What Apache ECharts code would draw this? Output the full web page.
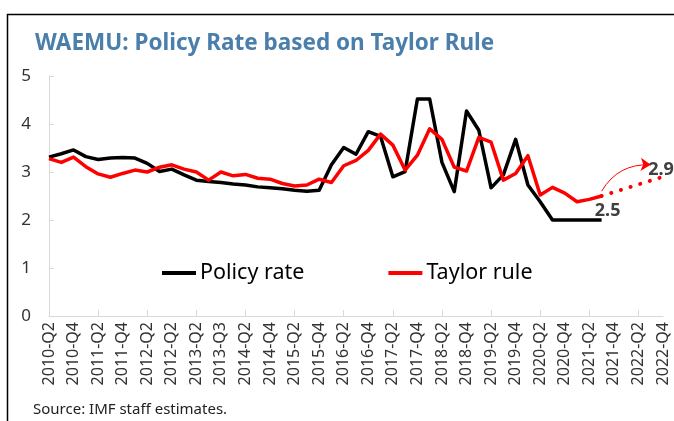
<!DOCTYPE html>
<html>
<head>
<meta charset="utf-8">
<script src="https://cdn.jsdelivr.net/npm/echarts@6/dist/echarts.min.js"></script>
<style>
  html, body { margin: 0; padding: 0; background: #fff; }
  #chart { width: 674px; height: 421px; }
</style>
</head>
<body>
<div id="chart"></div>
<script>
// Quarters 2010-Q2 .. 2022-Q4
const categories = [];
for (let y = 2010; y <= 2022; y++) {
  for (let q = 1; q <= 4; q++) {
    if (y === 2010 && q === 1) continue;
    categories.push(y + '-Q' + q);
  }
}

// Axis labels shown on every second quarter
const tickLabels = [
  '2010-Q2', '2010-Q4', '2011-Q2', '2011-Q4', '2012-Q2', '2012-Q2', '2013-Q2',
  '2013-Q3', '2014-Q2', '2014-Q4', '2015-Q2', '2015-Q4', '2016-Q2', '2016-Q4',
  '2017-Q2', '2017-Q4', '2018-Q2', '2018-Q4', '2019-Q2', '2019-Q4', '2020-Q2',
  '2020-Q4', '2021-Q2', '2021-Q4', '2022-Q2', '2022-Q4'
];

const policyRate = [
  3.31, 3.38, 3.46, 3.32, 3.26, 3.29, 3.30, 3.29, 3.18, 3.01,
  3.06, 2.94, 2.83, 2.80, 2.78, 2.75, 2.73, 2.69, 2.67, 2.65,
  2.62, 2.60, 2.62, 3.15, 3.51, 3.37, 3.84, 3.74, 2.90, 3.01,
  4.52, 4.52, 3.20, 2.59, 4.27, 3.87, 2.67, 2.94, 3.68, 2.73,
  2.38, 2.00, 2.00, 2.00, 2.00, 2.00, null, null, null, null, null
];

const taylorRule = [
  3.28, 3.20, 3.31, 3.11, 2.96, 2.89, 2.97, 3.04, 3.00, 3.10,
  3.15, 3.06, 3.00, 2.83, 3.00, 2.92, 2.95, 2.87, 2.85, 2.76,
  2.71, 2.73, 2.85, 2.78, 3.13, 3.24, 3.45, 3.79, 3.56, 3.04,
  3.35, 3.90, 3.68, 3.10, 3.02, 3.72, 3.62, 2.83, 2.97, 3.34,
  2.52, 2.68, 2.56, 2.38, 2.43, 2.50, null, null, null, null, null
];

// Projected Taylor-rule path (dotted)
const taylorProjection = [
  null, null, null, null, null, null, null, null, null, null,
  null, null, null, null, null, null, null, null, null, null,
  null, null, null, null, null, null, null, null, null, null,
  null, null, null, null, null, null, null, null, null, null,
  null, null, null, null, null, 2.50, null, null, null, null, 2.90
];

// Curved arrow annotation: [category index, value]
const arrowFrom = [45.05, 2.6];
const arrowTo = [49.35, 3.15];

const labelValueIndex = 45;
const projEndIndex = 50;

const chart = echarts.init(document.getElementById('chart'));
const FONT = '"Noto Sans", "Open Sans", sans-serif';
const VALUE_LABEL = { fontFamily: FONT, fontSize: 18, fontWeight: 'bold', color: '#404040' };

chart.setOption({
  animation: false,
  backgroundColor: '#fff',
  title: {
    text: 'WAEMU: Policy Rate based on Taylor Rule',
    left: 30, top: 27,
    textStyle: { fontFamily: FONT, fontSize: 22.5, fontWeight: 'bold', color: '#4a7eab' }
  },
  legend: {
    top: 262, left: 162, padding: 0,
    itemWidth: 34, itemHeight: 4, itemGap: 84,
    icon: 'rect',
    textStyle: { fontFamily: FONT, fontSize: 21.5, color: '#000', padding: [0, 0, 0, -1] },
    data: ['Policy rate', 'Taylor rule']
  },
  grid: { left: 49, right: 11, top: 76, bottom: 105, containLabel: false },
  xAxis: {
    type: 'category',
    data: categories,
    boundaryGap: false,
    axisLine: { lineStyle: { color: '#d9d9d9', width: 1 } },
    axisTick: { inside: true, length: 6, interval: 3, lineStyle: { color: '#d9d9d9' } },
    axisLabel: {
      interval: 1, rotate: 90, margin: 6,
      fontFamily: FONT, fontSize: 16, color: '#333',
      formatter: (v, i) => tickLabels[i / 2] || ''
    },
    splitLine: { show: false }
  },
  yAxis: {
    type: 'value',
    min: 0, max: 5, interval: 1,
    axisLine: { show: true, lineStyle: { color: '#d9d9d9', width: 1 } },
    axisTick: { show: true, inside: true, length: 5, lineStyle: { color: '#d9d9d9' } },
    axisLabel: { fontFamily: FONT, fontSize: 17, color: '#333', margin: 18 },
    splitLine: { show: false }
  },
  series: [
    {
      name: 'Policy rate', type: 'line', data: policyRate,
      symbol: 'none', itemStyle: { color: '#000' },
      lineStyle: { color: '#000', width: 3.5, join: 'round' }
    },
    {
      name: 'Taylor rule', type: 'line', data: taylorRule,
      symbol: 'none', itemStyle: { color: '#ff0000' },
      lineStyle: { color: '#ff0000', width: 3.5, join: 'round' },
      markPoint: {
        symbol: 'circle', symbolSize: 0,
        data: [{ coord: [labelValueIndex, taylorRule[labelValueIndex]], value: taylorRule[labelValueIndex] }],
        label: Object.assign({
          show: true, position: 'bottom', offset: [6, 1],
          formatter: p => p.value.toFixed(1)
        }, VALUE_LABEL)
      }
    },
    {
      name: 'Projection', type: 'line', data: taylorProjection,
      connectNulls: true, symbol: 'none',
      lineStyle: { color: '#ff0000', width: 4, type: [0.1, 10], cap: 'round' },
      markPoint: {
        symbol: 'circle', symbolSize: 0,
        data: [{ coord: [projEndIndex, taylorProjection[projEndIndex]], value: taylorProjection[projEndIndex] }],
        label: Object.assign({
          show: true, position: 'top', offset: [-2, 7],
          formatter: p => p.value.toFixed(1)
        }, VALUE_LABEL)
      }
    },
    {
      name: 'Arrow', type: 'lines', coordinateSystem: 'cartesian2d',
      silent: true, z: 5,
      symbol: ['none', 'arrow'], symbolSize: [0, 10],
      lineStyle: { color: '#ff0000', width: 1, curveness: 0.3, opacity: 1 },
      data: [{ coords: [arrowFrom, arrowTo] }]
    }
  ],
  graphic: [
    {
      type: 'rect', silent: true,
      shape: { x: 7.5, y: 14.5, width: 700, height: 420 },
      style: { fill: null, stroke: '#000', lineWidth: 1.5 }
    },
    {
      type: 'text', left: 33, top: 402,
      style: { text: 'Source: IMF staff estimates.', font: '15px "Noto Sans", sans-serif', fill: '#222' }
    }
  ]
});
</script>
</body>
</html>
